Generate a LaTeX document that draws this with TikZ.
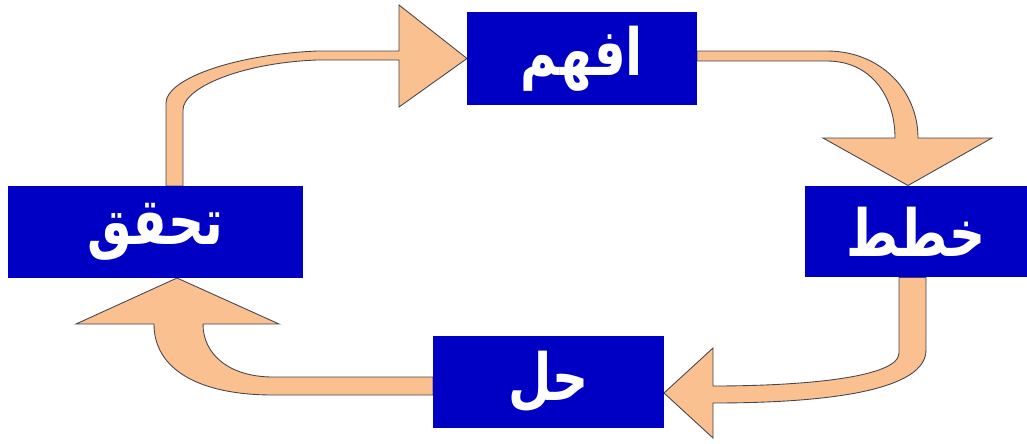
\documentclass[tikz,border=0pt]{standalone}
\usepackage{fontspec}
\newfontfamily\arabicfont[Script=Arabic,FakeStretch=0.77]{DejaVu Sans}
\TeXXeTstate=1
\usetikzlibrary{calc,backgrounds}
\definecolor{boxblue}{RGB}{0,0,196}
\definecolor{arrowtan}{RGB}{250,192,143}
\definecolor{arrowedge}{RGB}{70,70,80}

\begin{document}
\begin{tikzpicture}[x=0.02cm,y=-0.02cm,
  stepbox/.style={fill=boxblue,text=white,inner sep=0pt,outer sep=0pt,minimum height=1.84cm,font=\arabicfont\bfseries\fontsize{37}{40}\selectfont},
  bentarrow/.style={fill=arrowtan,draw=arrowedge,line width=0.5pt,line join=miter}]
\useasboundingbox (0,0) rectangle (1027,443);

% the four steps
\node[stepbox,minimum width=4.6cm,minimum height=1.86cm] (afham) at (582,58.5) {\raisebox{-2pt}{\beginR افهم\endR}};
\node[stepbox,minimum width=4.44cm] (khattit) at (916,231.5) {\raisebox{-2pt}{\beginR خطط\endR}};
\node[stepbox,minimum width=4.62cm] (hall) at (548.5,382) {\raisebox{-2pt}{\beginR حل\endR}};
\node[stepbox,minimum width=5.9cm] (tahaqquq) at (155.5,232) {\raisebox{-1pt}{\beginR تحقق\endR}};

\begin{scope}[on background layer]
% tahaqquq -> afham
\filldraw[bentarrow] ($(tahaqquq.north)+(10.5,0)$) -- (166,103) .. controls (166,80) and (230,55) .. (317,51) -- (399,51) -- (399,5) -- (afham.west) -- (399,107) -- (399,60) -- (317,60) .. controls (240,63) and (183,88) .. (183,110) -- ($(tahaqquq.north)+(27.5,0)$) -- cycle;
% afham -> khattit
\filldraw[bentarrow] ($(afham.east)+(0,-7.5)$) -- (827,51) .. controls (880,51) and (918,90) .. (918,138) -- (992,138) -- ($(khattit.north)+(-8,0)$) -- (823,138) -- (895,138) .. controls (895,95) and (870,61) .. (827,61) -- ($(afham.east)+(0,2.5)$) -- cycle;
% khattit -> hall
\filldraw[bentarrow] ($(khattit.south)+(10,0)$) -- (926,350) .. controls (926,390) and (830,403) .. (713,403) -- (713,438) -- ($(hall.east)+(0,11)$) -- (713,348) -- (713,386) .. controls (800,386) and (899,378) .. (899,353) -- ($(khattit.south)+(-17,0)$) -- cycle;
% hall -> tahaqquq
\filldraw[bentarrow] ($(hall.west)+(0,-5)$) -- (273,377) .. controls (230,377) and (203,355) .. (203,324) -- (279,324) -- ($(tahaqquq.south)+(21.5,0)$) -- (76,324) -- (154,324) .. controls (154,370) and (200,395) .. (273,395) -- ($(hall.west)+(0,13)$) -- cycle;
\end{scope}
\end{tikzpicture}
\end{document}
